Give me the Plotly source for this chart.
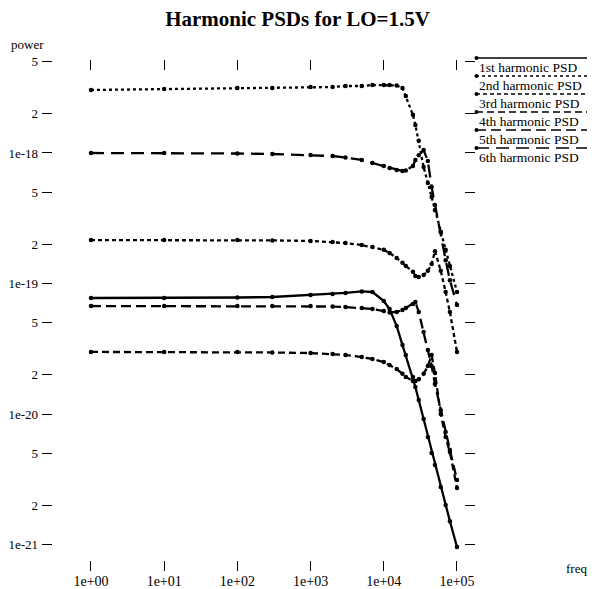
import plotly.graph_objects as go

# ---------------- data ----------------
freq = [1, 10, 100, 300, 1000, 2000, 3000, 5000, 7000, 10000, 12000, 15000, 18000,
        20000, 25000, 27000, 30000, 35000, 40000, 45000, 50000, 60000, 70000, 80000, 100000]

psd_1st = [7.74e-20, 7.74e-20, 7.81e-20, 7.88e-20, 8.16e-20, 8.31e-20, 8.46e-20, 8.69e-20,
           8.61e-20, 7.34e-20, 6.38e-20, 4.72e-20, 3.38e-20, 2.83e-20, 1.92e-20, 1.61e-20,
           1.28e-20, 9.15e-21, 6.66e-21, 5.02e-21, 4.06e-21, 2.76e-21, 2.01e-21, 1.51e-21, 9.57e-22]
psd_2nd = [3.04e-18, 3.09e-18, 3.15e-18, 3.15e-18, 3.20e-18, 3.20e-18, 3.26e-18, 3.26e-18,
           3.32e-18, 3.32e-18, 3.32e-18, 3.29e-18, 3.15e-18, 2.73e-18, 1.96e-18, 1.64e-18,
           1.24e-18, 7.8e-19, 5.9e-19, 4.6e-19, 3.66e-19, 2.48e-19, 1.81e-19, 1.36e-19, 8.6e-20]
psd_3rd = [2.15e-19, 2.15e-19, 2.15e-19, 2.14e-19, 2.12e-19, 2.08e-19, 2.04e-19, 1.97e-19,
           1.90e-19, 1.81e-19, 1.71e-19, 1.57e-19, 1.44e-19, 1.36e-19, 1.23e-19, 1.14e-19,
           1.12e-19, 1.16e-19, 1.25e-19, 1.41e-19, 1.77e-19, 1.25e-19, 8.6e-20, 6.05e-20, 2.99e-20]
psd_4th = [2.99e-20, 2.99e-20, 2.99e-20, 2.96e-20, 2.93e-20, 2.88e-20, 2.83e-20, 2.73e-20,
           2.64e-20, 2.50e-20, 2.37e-20, 2.21e-20, 2.03e-20, 1.92e-20, 1.79e-20, 1.79e-20,
           1.85e-20, 2.03e-20, 2.33e-20, 2.83e-20, 2.06e-20, 1.00e-20, 6.66e-21, 5.11e-21, 2.71e-21]
psd_5th = [6.72e-20, 6.72e-20, 6.72e-20, 6.72e-20, 6.72e-20, 6.66e-20, 6.60e-20, 6.49e-20,
           6.38e-20, 6.15e-20, 5.99e-20, 6.05e-20, 6.26e-20, 6.49e-20, 6.97e-20, 7.21e-20,
           6.05e-20, 4.25e-20, 3.09e-20, 2.33e-20, 1.70e-20, 1.07e-20, 7.28e-21, 5.30e-21, 3.12e-21]
psd_6th = [1.00e-18, 1.00e-18, 9.91e-19, 9.82e-19, 9.65e-19, 9.48e-19, 9.24e-19, 8.84e-19,
           8.38e-19, 7.95e-19, 7.67e-19, 7.41e-19, 7.28e-19, 7.34e-19, 7.95e-19, 8.84e-19,
           9.6e-19, 1.054e-18, 8.69e-19, 5.49e-19, 4.00e-19, 2.48e-19, 1.51e-19, 1.06e-19, 6.84e-20]

series_names = ["1st harmonic PSD", "2nd harmonic PSD", "3rd harmonic PSD",
                "4th harmonic PSD", "5th harmonic PSD", "6th harmonic PSD"]
series_values = [psd_1st, psd_2nd, psd_3rd, psd_4th, psd_5th, psd_6th]

x_tick_vals = [1, 10, 100, 1000, 10000, 100000]
x_tick_text = ["1e+00", "1e+01", "1e+02", "1e+03", "1e+04", "1e+05"]
y_tick_vals = [1e-21, 2e-21, 5e-21, 1e-20, 2e-20, 5e-20, 1e-19, 2e-19, 5e-19, 1e-18, 2e-18, 5e-18]
y_tick_text = ["1e-21", "2", "5", "1e-20", "2", "5", "1e-19", "2", "5", "1e-18", "2", "5"]

title_text = "Harmonic PSDs for LO=1.5V"
x_label = "freq"
y_label = "power"

# ---------------- style / layout ----------------
# the page body adds an 8 px offset, so the figure is 8 px smaller and shifted
OFF = 8
W, H = 595 - OFF, 589 - OFF
PL, PR, PT, PB = 42 - OFF, 475 - OFF, 60 - OFF, 571 - OFF   # plot area in figure pixels
FONT = "Liberation Serif, Times New Roman, serif"
dashes = ["solid", "dot", "4px,3px", "7px,4px", "10px,5px", "13px,7px"]


def px_x(px):
    # px given in screenshot coordinates
    return (px - OFF - PL) / (PR - PL)


def px_y(py):
    return (PB - (py - OFF)) / (PB - PT)


fig = go.Figure()
for name, vals, dash in zip(series_names, series_values, dashes):
    fig.add_trace(go.Scatter(
        x=freq, y=vals, name=name, mode="lines+markers",
        line=dict(color="black", width=2.3, dash=dash),
        marker=dict(color="black", size=4.5, symbol="circle"),
        showlegend=False,
    ))

# legend drawn in xgraph style: line over the label
legend_text_y = [67, 85, 103, 121, 139, 157]
shapes = []
annotations = []
for name, dash, ty in zip(series_names, dashes, legend_text_y):
    ly = ty - 9
    shapes.append(dict(type="line", xref="paper", yref="paper",
                       x0=px_x(476), x1=px_x(595), y0=px_y(ly), y1=px_y(ly),
                       line=dict(color="black", width=1.3, dash=dash)))
    shapes.append(dict(type="circle", xref="paper", yref="paper",
                       x0=px_x(474.5), x1=px_x(478.5), y0=px_y(ly - 2), y1=px_y(ly + 2),
                       fillcolor="black", line=dict(color="black", width=0)))
    annotations.append(dict(text=name, xref="paper", yref="paper",
                            x=px_x(477), y=px_y(ty), xanchor="left", yanchor="middle",
                            showarrow=False, font=dict(family=FONT, size=13.5, color="black")))

annotations.append(dict(text=y_label, xref="paper", yref="paper",
                        x=px_x(9), y=px_y(45), xanchor="left", yanchor="middle",
                        showarrow=False, font=dict(family=FONT, size=13, color="black")))
annotations.append(dict(text=x_label, xref="paper", yref="paper",
                        x=px_x(564), y=px_y(568), xanchor="left", yanchor="middle",
                        showarrow=False, font=dict(family=FONT, size=13, color="black")))

axis_common = dict(showgrid=False, zeroline=False, showline=False,
                   ticks="inside", ticklen=10, tickwidth=1, tickcolor="black",
                   mirror="ticks", automargin=False)

fig.update_layout(
    width=W, height=H,
    margin=dict(l=PL, r=W - PR, t=PT, b=H - PB, pad=0),
    paper_bgcolor="white", plot_bgcolor="white",
    title=dict(text="<b>" + title_text + "</b>", x=0.5 - 4 / W, xanchor="center",
               y=1 - (19 - OFF) / H, yanchor="middle", yref="container",
               font=dict(family=FONT, size=21, color="black")),
    xaxis=dict(type="log", range=[-0.669, 5.246], tickvals=x_tick_vals,
               ticktext=x_tick_text,
               tickfont=dict(family=FONT, size=14, color="black"), **axis_common),
    yaxis=dict(type="log", range=[-21.2031, -17.2874], tickvals=y_tick_vals,
               ticktext=y_tick_text, ticklabelstandoff=3,
               tickfont=dict(family=FONT, size=13, color="black"), **axis_common),
    shapes=shapes, annotations=annotations,
    showlegend=False,
)

fig.write_html("out.html")
